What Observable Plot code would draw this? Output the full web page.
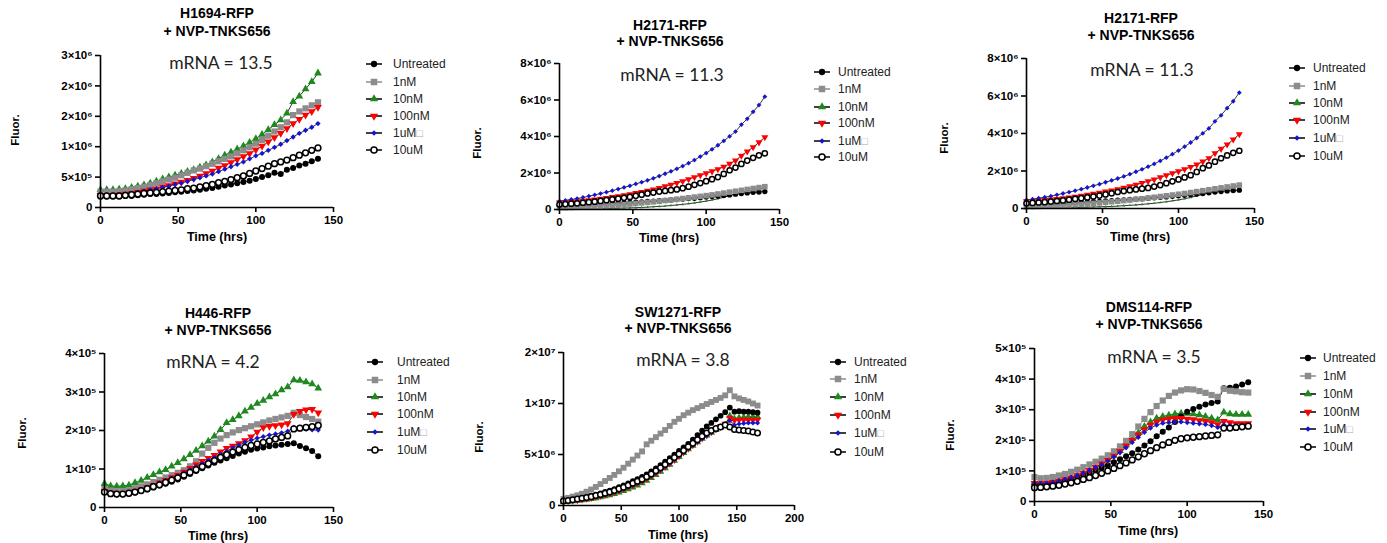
<!DOCTYPE html>
<html><head><meta charset="utf-8">
<script src="https://cdn.jsdelivr.net/npm/d3@7"></script>
<script src="https://cdn.jsdelivr.net/npm/@observablehq/plot@0.6"></script>
<style>
body{margin:0;background:#fff;}
#root{position:relative;width:1387px;height:543px;overflow:hidden;background:#fff;font-family:'Liberation Sans',Arial,sans-serif;color:#000;}
.t{position:absolute;white-space:nowrap;transform:translate(-50%,-50%);line-height:1;}
.title{font-weight:bold;font-size:14px;}
.mrna{font-family:Lato,'Open Sans',sans-serif;font-size:17.5px;color:#222;}
.axl{font-weight:bold;font-size:12.5px;}
.fl{font-weight:bold;font-size:11.5px;transform:translate(-50%,-50%) rotate(-90deg);}
.lg{position:absolute;white-space:nowrap;transform:translateY(-50%);font-size:12px;line-height:1;color:#222;}
.plot{position:absolute;overflow:visible;}
</style></head><body><div id="root"></div><script>
// ---------- data ----------
const seriesNames = ["Untreated", "1nM", "10nM", "100nM", "1uM", "10uM"];
const hours140 = [0,4,8,12,16,20,24,28,32,36,40,44,48,52,56,60,64,68,72,76,80,84,88,92,96,100,104,108,112,116,120,124,128,132,136,140];
const hours168 = [0,4,8,12,16,20,24,28,32,36,40,44,48,52,56,60,64,68,72,76,80,84,88,92,96,100,104,108,112,116,120,124,128,132,136,140,144,148,152,156,160,164,168];

// H1694 (x10^6)
const h1694_untreated = [.18,.18,.18,.18,.19,.19,.20,.21,.22,.22,.23,.24,.25,.26,.27,.28,.29,.31,.32,.34,.36,.38,.40,.42,.44,.47,.50,.53,.57,.55,.62,.65,.69,.72,.76,.80];
const h1694_1nM = [.26,.26,.26,.27,.28,.30,.32,.34,.37,.40,.43,.46,.49,.53,.57,.61,.64,.68,.72,.76,.80,.84,.89,.94,.99,1.05,1.11,1.18,1.25,1.32,1.40,1.52,1.58,1.63,1.68,1.73];
const h1694_10nM = [.29,.29,.29,.30,.31,.33,.35,.37,.40,.43,.47,.50,.53,.56,.59,.62,.66,.70,.75,.80,.86,.91,.96,1.01,1.07,1.13,1.20,1.28,1.36,1.44,1.55,1.74,1.83,1.95,2.07,2.21];
const h1694_100nM = [.20,.20,.20,.21,.22,.23,.25,.27,.29,.31,.34,.36,.39,.42,.45,.48,.52,.56,.60,.65,.69,.74,.79,.84,.89,.95,1.01,1.08,1.15,1.22,1.30,1.38,1.45,1.52,1.58,1.65];
const h1694_1uM = [.20,.20,.20,.21,.22,.23,.25,.27,.29,.31,.33,.35,.38,.40,.43,.46,.49,.52,.55,.59,.63,.67,.71,.75,.80,.85,.89,.94,.99,1.04,1.10,1.16,1.22,1.27,1.32,1.38];
const h1694_10uM = [.19,.19,.19,.19,.20,.21,.22,.23,.24,.25,.26,.27,.28,.29,.31,.32,.34,.36,.38,.41,.43,.46,.49,.52,.56,.60,.64,.68,.72,.75,.78,.82,.86,.90,.94,.98];

// H2171 (x10^6)
const h2171_untreated = [.18,.19,.20,.21,.22,.24,.26,.28,.30,.32,.34,.36,.38,.40,.42,.44,.46,.48,.50,.52,.55,.57,.60,.62,.65,.68,.71,.74,.77,.80,.84,.88,.91,.94,.96,.98];
const h2171_1nM = [.10,.10,.11,.12,.13,.14,.16,.18,.20,.22,.24,.27,.30,.33,.36,.39,.42,.45,.49,.52,.56,.60,.64,.68,.72,.76,.80,.85,.90,.95,1.00,1.05,1.10,1.15,1.20,1.25];
const h2171_10nM = [.03,.03,.03,.03,.04,.04,.04,.05,.05,.06,.07,.08,.09,.10,.11,.13,.15,.17,.19,.22,.25,.28,.32,.36,.41,.46,.52,.59,.67,.76,.86,.94,1.00,1.06,1.12,1.18];
const h2171_100nM = [.38,.40,.42,.45,.48,.51,.55,.59,.63,.68,.73,.78,.84,.90,.96,1.03,1.10,1.18,1.27,1.36,1.45,1.55,1.66,1.77,1.88,1.98,2.09,2.21,2.34,2.50,2.68,2.95,3.18,3.41,3.68,3.96];
const h2171_1uM = [.46,.50,.55,.60,.66,.73,.80,.87,.95,1.03,1.12,1.21,1.30,1.40,1.50,1.60,1.71,1.83,1.96,2.09,2.23,2.38,2.54,2.71,2.90,3.09,3.30,3.52,3.76,4.01,4.27,4.65,4.97,5.35,5.72,6.18];
const h2171_10uM = [.28,.30,.32,.34,.37,.40,.43,.47,.51,.55,.59,.64,.69,.75,.81,.88,.93,.98,1.02,1.06,1.10,1.17,1.25,1.35,1.45,1.55,1.66,1.78,1.95,2.15,2.30,2.50,2.68,2.83,2.97,3.08];

// H446 (x10^5)
const h446_untreated = [.40,.36,.35,.35,.36,.39,.43,.47,.52,.57,.62,.67,.73,.80,.87,.95,1.02,1.09,1.16,1.22,1.28,1.34,1.40,1.45,1.50,1.53,1.56,1.59,1.61,1.63,1.65,1.67,1.60,1.54,1.47,1.33];
const h446_1nM = [.48,.44,.42,.43,.45,.50,.55,.60,.66,.72,.78,.84,.90,.97,1.07,1.20,1.40,1.55,1.68,1.79,1.88,1.95,2.01,2.06,2.11,2.16,2.21,2.26,2.30,2.34,2.38,2.46,2.40,2.35,2.30,2.23];
const h446_10nM = [.62,.56,.55,.56,.58,.64,.70,.78,.85,.92,.98,1.07,1.16,1.26,1.37,1.48,1.60,1.72,1.85,2.02,2.20,2.28,2.38,2.50,2.60,2.70,2.78,2.87,2.95,3.05,3.13,3.31,3.30,3.26,3.21,3.10];
const h446_100nM = [.42,.38,.36,.36,.38,.42,.46,.52,.58,.64,.71,.78,.84,.92,1.02,1.11,1.20,1.28,1.36,1.45,1.54,1.60,1.66,1.74,1.84,1.96,2.08,2.11,2.13,2.15,2.18,2.42,2.50,2.54,2.55,2.46];
const h446_1uM = [.42,.38,.36,.36,.38,.42,.46,.52,.58,.64,.70,.76,.82,.90,.98,1.06,1.14,1.22,1.30,1.38,1.46,1.55,1.62,1.69,1.75,1.80,1.84,1.88,1.91,1.94,1.98,2.08,2.04,2.03,2.02,2.01];
const h446_10uM = [.40,.36,.35,.35,.37,.40,.44,.49,.54,.59,.65,.71,.77,.84,.91,.98,1.06,1.14,1.22,1.30,1.37,1.44,1.50,1.56,1.61,1.65,1.69,1.73,1.78,1.82,1.86,2.04,2.06,2.08,2.10,2.13];

// SW1271 (x10^6)
const sw1271_untreated = [.50,.55,.62,.70,.78,.87,.97,1.08,1.2,1.33,1.47,1.62,1.8,1.98,2.18,2.38,2.58,2.8,3.05,3.35,3.65,3.95,4.3,4.65,5.0,5.35,5.7,6.05,6.45,6.9,7.35,7.75,8.1,8.45,8.8,9.15,9.6,9.2,9.25,9.2,9.2,9.15,9.1];
const sw1271_1nM = [.65,.75,.87,1.0,1.15,1.35,1.57,1.82,2.1,2.4,2.7,3.0,3.35,3.7,4.1,4.5,4.9,5.3,6.0,6.35,6.7,7.05,7.4,7.8,8.2,8.5,8.85,9.1,9.35,9.55,9.75,9.95,10.15,10.35,10.55,10.8,11.3,10.7,10.5,10.35,10.2,10.0,9.8];
const sw1271_10nM = [.35,.38,.42,.47,.52,.58,.65,.73,.82,.92,1.03,1.15,1.28,1.43,1.6,1.78,1.98,2.2,2.45,2.72,3.0,3.32,3.66,4.02,4.4,4.78,5.15,5.52,5.88,6.22,6.55,6.87,7.15,7.42,7.65,7.9,8.8,8.5,8.6,8.65,8.7,8.7,8.7];
const sw1271_100nM = [.4,.44,.49,.55,.61,.68,.76,.85,.95,1.06,1.18,1.31,1.46,1.62,1.8,1.98,2.18,2.4,2.64,2.9,3.18,3.48,3.8,4.14,4.5,4.86,5.22,5.58,5.93,6.27,6.6,6.9,7.2,7.48,7.75,8.0,8.6,8.35,8.4,8.4,8.4,8.4,8.4];
const sw1271_1uM = [.4,.44,.49,.55,.61,.68,.76,.85,.95,1.06,1.18,1.31,1.46,1.62,1.8,1.98,2.18,2.4,2.64,2.9,3.18,3.48,3.8,4.14,4.5,4.86,5.22,5.58,5.92,6.25,6.56,6.85,7.15,7.4,7.6,7.85,8.3,7.9,8.0,8.05,8.1,8.1,8.1];
const sw1271_10uM = [.45,.5,.56,.63,.7,.78,.87,.97,1.08,1.2,1.33,1.47,1.63,1.8,1.98,2.17,2.37,2.58,2.82,3.1,3.4,3.7,4.02,4.36,4.7,5.05,5.4,5.75,6.1,6.45,6.8,7.1,7.35,7.55,7.7,7.9,7.7,7.45,7.4,7.35,7.3,7.2,7.1];

// DMS114 (x10^5)
const dms114_untreated = [.58,.58,.60,.62,.66,.70,.75,.81,.87,.94,1.02,1.10,1.18,1.28,1.38,1.48,1.58,1.70,1.83,1.97,2.13,2.28,2.42,2.60,2.78,2.93,3.02,3.10,3.17,3.22,3.27,3.70,3.72,3.76,3.82,3.90];
const dms114_1nM = [.80,.76,.77,.80,.85,.90,.97,1.04,1.12,1.21,1.30,1.40,1.51,1.64,1.80,1.98,2.20,2.45,2.70,2.92,3.12,3.30,3.45,3.56,3.63,3.67,3.66,3.61,3.55,3.48,3.42,3.68,3.62,3.60,3.57,3.56];
const dms114_10nM = [.60,.58,.60,.63,.67,.72,.78,.85,.93,1.02,1.12,1.23,1.36,1.50,1.66,1.85,2.05,2.25,2.45,2.60,2.72,2.78,2.82,2.86,2.88,2.88,2.86,2.83,2.78,2.72,2.66,2.92,2.86,2.84,2.84,2.84];
const dms114_100nM = [.60,.58,.60,.63,.67,.72,.78,.85,.93,1.02,1.12,1.23,1.35,1.49,1.64,1.82,2.00,2.18,2.35,2.50,2.60,2.66,2.70,2.72,2.72,2.70,2.68,2.65,2.62,2.58,2.52,2.62,2.58,2.55,2.55,2.55];
const dms114_1uM = [.60,.58,.60,.63,.67,.72,.78,.85,.93,1.02,1.11,1.21,1.33,1.46,1.60,1.76,1.93,2.10,2.26,2.40,2.50,2.56,2.58,2.60,2.60,2.58,2.56,2.54,2.52,2.48,2.42,2.50,2.48,2.47,2.47,2.48];
const dms114_10uM = [.45,.46,.48,.50,.53,.57,.61,.66,.72,.78,.85,.92,1.00,1.08,1.17,1.26,1.36,1.46,1.56,1.66,1.76,1.85,1.93,2.00,2.05,2.08,2.10,2.12,2.14,2.16,2.18,2.40,2.40,2.42,2.44,2.46];

// axis ticks and labels
const xTicks150 = [0, 50, 100, 150];
const xTicks200 = [0, 50, 100, 150, 200];
const yTicksH1694 = [0, 5e5, 1e6, 1.5e6, 2e6, 2.5e6];
const yLabelsH1694 = ["0", "5×10⁵", "1×10⁶", "2×10⁶", "2×10⁶", "3×10⁶"];
const yTicksH2171 = [0, 2e6, 4e6, 6e6, 8e6];
const yLabelsH2171 = ["0", "2×10⁶", "4×10⁶", "6×10⁶", "8×10⁶"];
const yTicksH446 = [0, 1e5, 2e5, 3e5, 4e5];
const yLabelsH446 = ["0", "1×10⁵", "2×10⁵", "3×10⁵", "4×10⁵"];
const yTicksSW1271 = [0, 5e6, 1e7, 1.5e7];
const yLabelsSW1271 = ["0", "5×10⁶", "1×10⁷", "2×10⁷"];
const yTicksDMS114 = [0, 1e5, 2e5, 3e5, 4e5, 5e5];
const yLabelsDMS114 = ["0", "1×10⁵", "2×10⁵", "3×10⁵", "4×10⁵", "5×10⁵"];

// ---------- styles ----------
const seriesStyle = {
  "Untreated": {symbol: "circle", fill: "#000", line: "#000", r: 3},
  "1nM": {symbol: "square", fill: "#8c8c8c", line: "#8c8c8c", r: 3.5},
  "10nM": {symbol: "triangle", fill: "#1e8a1e", line: "#000", r: 2.9},
  "100nM": {symbol: "triangle", rotate: 180, fill: "#ff0000", line: "#000", r: 2.9},
  "1uM": {symbol: "diamond2", fill: "#1414d2", line: "#000", r: 2.4},
  "10uM": {symbol: "circle", fill: "#fff", stroke: "#000", strokeWidth: 1.5, line: "#000", r: 2.9}
};
const drawOrder = ["10nM", "Untreated", "1nM", "100nM", "1uM", "10uM"];

const panels = [
  {title: ["H1694-RFP", "+ NVP-TNKS656"], mrna: "mRNA = 13.5", unit: 1e6, times: hours140,
   values: [h1694_untreated, h1694_1nM, h1694_10nM, h1694_100nM, h1694_1uM, h1694_10uM],
   xMax: 150, xTicks: xTicks150, yMax: 2.5e6, yTicks: yTicksH1694, yLabels: yLabelsH1694,
   f: {x0: 100, x1: 333, y0: 207, y1: 55}, tx: 217, ty: [13, 31], mx: 221, my: 63, fx: 16, fy: 130, lx: 217, ly: 237,
   leg: {mx: 374, tx: 393, rows: [64, 82, 99, 116, 133, 150]}, s: 1, greenR: 1},
  {title: ["H2171-RFP", "+ NVP-TNKS656"], mrna: "mRNA = 11.3", unit: 1e6, times: hours140,
   values: [h2171_untreated, h2171_1nM, h2171_10nM, h2171_100nM, h2171_1uM, h2171_10uM],
   xMax: 150, xTicks: xTicks150, yMax: 8e6, yTicks: yTicksH2171, yLabels: yLabelsH2171,
   f: {x0: 559, x1: 779, y0: 209, y1: 63}, tx: 670, ty: [25, 41], mx: 672, my: 75, fx: 478, fy: 143, lx: 669, ly: 238,
   leg: {mx: 822, tx: 838, rows: [72, 89, 107, 123, 141, 157]}, s: 0.9, greenR: 0.4},
  {title: ["H2171-RFP", "+ NVP-TNKS656"], mrna: "mRNA = 11.3", unit: 1e6, times: hours140,
   values: [h2171_untreated, h2171_1nM, h2171_10nM, h2171_100nM, h2171_1uM, h2171_10uM],
   xMax: 150, xTicks: xTicks150, yMax: 8e6, yTicks: yTicksH2171, yLabels: yLabelsH2171,
   f: {x0: 1026, x1: 1254, y0: 208, y1: 58}, tx: 1141, ty: [18, 35], mx: 1142, my: 70, fx: 945, fy: 138, lx: 1140, ly: 237,
   leg: {mx: 1297, tx: 1313, rows: [68, 86, 103, 120, 138, 156]}, s: 0.9, greenR: 0.4},
  {title: ["H446-RFP", "+ NVP-TNKS656"], mrna: "mRNA = 4.2", unit: 1e5, times: hours140,
   values: [h446_untreated, h446_1nM, h446_10nM, h446_100nM, h446_1uM, h446_10uM],
   xMax: 150, xTicks: xTicks150, yMax: 4e5, yTicks: yTicksH446, yLabels: yLabelsH446,
   f: {x0: 104, x1: 333, y0: 507, y1: 353}, tx: 218, ty: [313, 330], mx: 213, my: 362, fx: 23, fy: 433, lx: 218, ly: 536,
   leg: {mx: 375, tx: 397, rows: [362, 380, 397, 414, 432, 450]}, s: 1, greenR: 1},
  {title: ["SW1271-RFP", "+ NVP-TNKS656"], mrna: "mRNA = 3.8", unit: 1e6, times: hours168,
   values: [sw1271_untreated, sw1271_1nM, sw1271_10nM, sw1271_100nM, sw1271_1uM, sw1271_10uM],
   xMax: 200, xTicks: xTicks200, yMax: 1.5e7, yTicks: yTicksSW1271, yLabels: yLabelsSW1271,
   f: {x0: 563, x1: 794, y0: 505, y1: 352}, tx: 678, ty: [312, 328], mx: 683, my: 360, fx: 480, fy: 437, lx: 678, ly: 535,
   leg: {mx: 838, tx: 854, rows: [362, 379, 397, 415, 433, 452]}, s: 0.95, greenR: 1},
  {title: ["DMS114-RFP", "+ NVP-TNKS656"], mrna: "mRNA = 3.5", unit: 1e5, times: hours140,
   values: [dms114_untreated, dms114_1nM, dms114_10nM, dms114_100nM, dms114_1uM, dms114_10uM],
   xMax: 150, xTicks: xTicks150, yMax: 5e5, yTicks: yTicksDMS114, yLabels: yLabelsDMS114,
   f: {x0: 1034, x1: 1263, y0: 501, y1: 348}, tx: 1149, ty: [307, 324], mx: 1154, my: 357, fx: 951, fy: 435, lx: 1148, ly: 531,
   leg: {mx: 1308, tx: 1323, rows: [358, 376, 394, 412, 429, 447]}, s: 1, greenR: 1}
];

const root = document.getElementById("root");
function addText(txt, x, y, cls) {
  const d = document.createElement("div");
  d.className = "t " + cls;
  d.textContent = txt;
  d.style.left = x + "px"; d.style.top = y + "px";
  root.appendChild(d);
}

function symbolPath(name, r) {
  const map = {circle: d3.symbolCircle, square: d3.symbolSquare, triangle: d3.symbolTriangle, diamond2: d3.symbolDiamond2};
  return d3.symbol(map[name], Math.PI * r * r)();
}

function drawPanel(p) {
  const padL = 62, padR = 12, padT = 8, padB = 26;
  const width = (p.f.x1 - p.f.x0) + padL + padR;
  const height = (p.f.y0 - p.f.y1) + padT + padB;
  const rows = [];
  seriesNames.forEach((s, i) => p.values[i].forEach((v, j) => rows.push({series: s, t: p.times[j], v: v * p.unit})));
  const labelMap = new Map(p.yTicks.map((t, i) => [t, p.yLabels[i]]));
  const marks = [];
  for (const s of seriesNames) {
    marks.push(Plot.line(rows.filter(d => d.series === s), {x: "t", y: "v", stroke: seriesStyle[s].line, strokeWidth: 0.8}));
  }
  for (const s of drawOrder) {
    const st = seriesStyle[s];
    const r = st.r * p.s * (s === "10nM" ? p.greenR : 1);
    const o = {x: "t", y: "v", symbol: st.symbol, fill: st.fill, r};
    if (st.rotate) o.rotate = st.rotate;
    if (st.stroke) { o.stroke = st.stroke; o.strokeWidth = st.strokeWidth; }
    marks.push(Plot.dot(rows.filter(d => d.series === s), o));
  }
  marks.push(Plot.ruleY([0], {strokeWidth: 1.6, stroke: "#000"}));
  marks.push(Plot.ruleX([0], {strokeWidth: 1.6, stroke: "#000"}));
  marks.push(Plot.axisX({ticks: p.xTicks, tickSize: 5, tickPadding: 3, tickFormat: d => String(d), label: null, strokeWidth: 1.6}));
  marks.push(Plot.axisY({ticks: p.yTicks, tickSize: 5, tickPadding: 3, tickFormat: d => labelMap.get(d), label: null, strokeWidth: 1.6}));
  const svg = Plot.plot({
    width, height, marginLeft: padL, marginRight: padR, marginTop: padT, marginBottom: padB,
    x: {domain: [0, p.xMax]},
    y: {domain: [0, p.yMax]},
    style: {fontFamily: "'Liberation Sans', Arial, sans-serif", fontSize: "11.5px", fontWeight: "bold", background: "transparent", color: "#000", overflow: "visible"},
    marks
  });
  svg.classList.add("plot");
  svg.style.left = (p.f.x0 - padL) + "px";
  svg.style.top = (p.f.y1 - padT) + "px";
  root.appendChild(svg);

  addText(p.title[0], p.tx, p.ty[0], "title");
  addText(p.title[1], p.tx, p.ty[1], "title");
  addText(p.mrna, p.mx, p.my, "mrna");
  addText("Fluor.", p.fx, p.fy, "fl");
  addText("Time (hrs)", p.lx, p.ly, "axl");

  seriesNames.forEach((s, i) => {
    const st = seriesStyle[s];
    const y = p.leg.rows[i];
    const ns = "http://www.w3.org/2000/svg";
    const sv = document.createElementNS(ns, "svg");
    sv.setAttribute("width", 20); sv.setAttribute("height", 14);
    sv.style.position = "absolute";
    sv.style.left = (p.leg.mx - 10) + "px"; sv.style.top = (y - 7) + "px";
    const ln = document.createElementNS(ns, "line");
    ln.setAttribute("x1", 2); ln.setAttribute("x2", 18); ln.setAttribute("y1", 7); ln.setAttribute("y2", 7);
    ln.setAttribute("stroke", st.line); ln.setAttribute("stroke-width", 1.5);
    sv.appendChild(ln);
    const pa = document.createElementNS(ns, "path");
    pa.setAttribute("d", symbolPath(st.symbol, st.r * 1.05));
    pa.setAttribute("transform", "translate(10,7)" + (st.rotate ? " rotate(180)" : ""));
    pa.setAttribute("fill", st.fill);
    if (st.stroke) { pa.setAttribute("stroke", st.stroke); pa.setAttribute("stroke-width", st.strokeWidth); }
    sv.appendChild(pa);
    root.appendChild(sv);
    const d = document.createElement("div");
    d.className = "lg";
    d.style.left = p.leg.tx + "px"; d.style.top = y + "px";
    d.textContent = s;
    if (s === "1uM") {
      const b = document.createElement("span");
      b.textContent = "□"; b.style.color = "#aaa"; b.style.fontSize = "11px";
      d.appendChild(b);
    }
    root.appendChild(d);
  });
}
panels.forEach(drawPanel);
</script></body></html>
